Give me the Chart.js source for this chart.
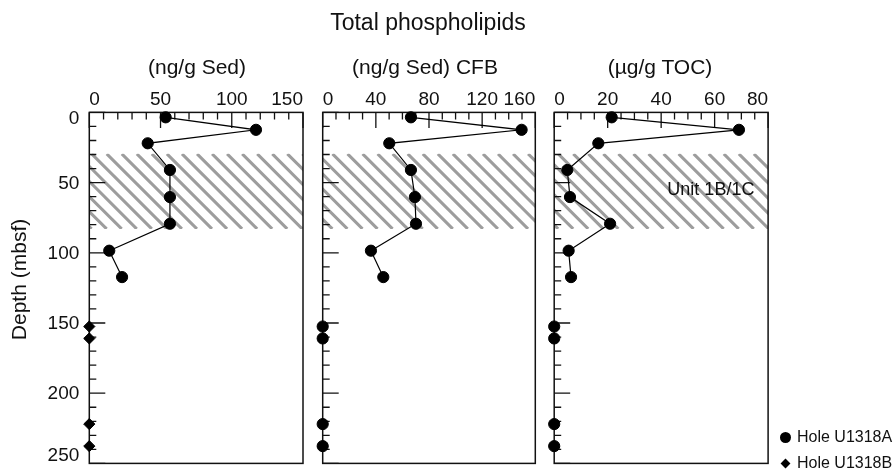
<!DOCTYPE html>
<html>
<head>
<meta charset="utf-8">
<script src="https://cdn.jsdelivr.net/npm/chart.js@4.4.1/dist/chart.umd.min.js"></script>
<style>
  body { margin: 0; background: #fff; }
  #wrap { position: relative; width: 895px; height: 470px; font-family: 'Liberation Sans', Arial, sans-serif; color: #111; }
  #wrap canvas { position: absolute; left: 0; top: 0; }
  .lbl { position: absolute; white-space: nowrap; transform: translate(-50%, -50%); line-height: 1; }
  .key { position: absolute; left: 779px; font-size: 16px; line-height: 1; white-space: nowrap; transform: translateY(-50%); display: flex; align-items: center; }
  .key i { display: inline-block; width: 12px; height: 12px; margin-right: 6px; position: relative; }
  .key i.dot::after { content: ''; position: absolute; left: 0.5px; top: 0.5px; width: 11px; height: 11px; border-radius: 50%; background: #000; }
  .key i.dia::after { content: ''; position: absolute; left: 2.5px; top: 2.5px; width: 7px; height: 7px; background: #000; transform: rotate(45deg); }
</style>
</head>
<body>
<div id="wrap">
  <canvas id="sed" width="895" height="470"></canvas>
  <canvas id="cfb" width="895" height="470"></canvas>
  <canvas id="toc" width="895" height="470"></canvas>

  <div class="lbl" style="left:428px; top:22px; font-size:23px;">Total phospholipids</div>
  <div class="lbl" style="left:197px; top:66px; font-size:21px;">(ng/g Sed)</div>
  <div class="lbl" style="left:425px; top:66px; font-size:21px;">(ng/g Sed) CFB</div>
  <div class="lbl" style="left:660px; top:66px; font-size:21px;">(µg/g TOC)</div>

  <div class="key" style="top:437px;"><i class="dot"></i>Hole U1318A</div>
  <div class="key" style="top:463px;"><i class="dia"></i>Hole U1318B</div>
</div>

<script>
// depth of each sample (mbsf)
const depthA = [3.5, 12.4, 22, 41, 60.3, 79.3, 98.5, 117.3];
const depthB = [152.5, 161, 222, 237.7];

// total phospholipids, Hole U1318A
const sedA = [53.6, 117, 41, 56.6, 56.6, 56.6, 14, 23];
const cfbA = [66.4, 149.7, 50.1, 66.4, 69.4, 70.2, 36.3, 45.6];
const tocA = [21.5, 69.1, 16.5, 4.9, 5.9, 20.9, 5.4, 6.3];

// Hole U1318B, all at zero
const sedB = [0, 0, 0, 0];
const cfbB = [0, 0, 0, 0];
const tocB = [0, 0, 0, 0];

// depth axis
const depthMax = 250;
const depthStep = 10;
const depthMajor = 50;
const depthTitle = 'Depth (mbsf)';

// Unit 1B/1C interval
const unitTop = 29.5;
const unitBottom = 83;
const unitLabel = 'Unit 1B/1C';

const FONT = "'Liberation Sans', Arial, sans-serif";
Chart.defaults.font.family = FONT;
Chart.defaults.color = '#111';

const pairs = (xs, ys) => xs.map((v, i) => ({ x: v, y: ys[i] }));

// hatch, frame and inward tick marks
const panelFrame = {
  id: 'panelFrame',
  beforeDatasetsDraw(chart, args, opts) {
    const { ctx, chartArea: a, scales: { x, y } } = chart;

    // hatched band
    const y0 = y.getPixelForValue(unitTop);
    const y1 = y.getPixelForValue(unitBottom);
    const h = y1 - y0;
    const gap = 15.05;
    ctx.save();
    ctx.beginPath();
    ctx.rect(a.left, y0, a.right - a.left, h);
    ctx.clip();
    ctx.strokeStyle = '#9d9d9d';
    ctx.lineWidth = 3;
    let sx = 91.7 + gap * Math.floor((a.left - h - 91.7) / gap);
    for (; sx < a.right; sx += gap) {
      ctx.beginPath();
      ctx.moveTo(sx, y0);
      ctx.lineTo(sx + h, y1);
      ctx.stroke();
    }
    ctx.restore();

    ctx.save();
    ctx.strokeStyle = '#111';
    ctx.lineWidth = 1.5;
    ctx.strokeRect(a.left, a.top, a.right - a.left, a.bottom - a.top);

    ctx.lineWidth = 1.3;
    ctx.beginPath();
    x.ticks.forEach(t => {
      const px = x.getPixelForValue(t.value);
      const len = t.value % opts.xMajor === 0 ? 15.5 : 7;
      ctx.moveTo(px, a.top);
      ctx.lineTo(px, a.top + len);
    });
    y.ticks.forEach(t => {
      const py = y.getPixelForValue(t.value);
      const len = t.value % depthMajor === 0 ? 16 : 7;
      ctx.moveTo(a.left, py);
      ctx.lineTo(a.left + len, py);
    });
    ctx.stroke();

    // depth labels, kept inside the frame height, plus the axis title
    if (opts.depthLabels) {
      ctx.fillStyle = '#111';
      ctx.font = '19px ' + FONT;
      ctx.textAlign = 'right';
      ctx.textBaseline = 'middle';
      y.ticks.forEach(t => {
        if (t.value % depthMajor !== 0) return;
        let py = y.getPixelForValue(t.value);
        py = Math.min(Math.max(py, a.top + 5), a.bottom - 9);
        ctx.fillText(String(t.value), a.left - 10, py + 1);
      });

      ctx.save();
      ctx.translate(20, y.getPixelForValue(119));
      ctx.rotate(-Math.PI / 2);
      ctx.font = '21px ' + FONT;
      ctx.textAlign = 'center';
      ctx.fillText(depthTitle, 0, 0);
      ctx.restore();
    }

    if (opts.note) {
      ctx.fillStyle = '#111';
      ctx.font = '18px ' + FONT;
      ctx.textAlign = 'center';
      ctx.textBaseline = 'middle';
      ctx.fillText(unitLabel, x.getPixelForValue(opts.note.x), y.getPixelForValue(opts.note.y));
    }
    ctx.restore();
  }
};

function makePanel(id, p) {
  return new Chart(document.getElementById(id), {
    type: 'scatter',
    data: {
      datasets: [
        {
          label: 'Hole U1318A',
          data: pairs(p.a, depthA),
          showLine: true,
          borderColor: '#000',
          borderWidth: 1.2,
          pointStyle: 'circle',
          pointRadius: 5.6,
          pointBackgroundColor: '#000',
          pointBorderColor: '#000',
          pointBorderWidth: 1,
          clip: false
        },
        {
          label: 'Hole U1318B',
          data: pairs(p.b, depthB),
          showLine: false,
          pointStyle: p.bStyle,
          pointRadius: 5.6,
          pointBackgroundColor: '#000',
          pointBorderColor: '#000',
          pointBorderWidth: 1,
          clip: false
        }
      ]
    },
    options: {
      responsive: false,
      animation: false,
      events: [],
      layout: { padding: { top: 0, left: 0, bottom: 2.5, right: 895 - p.right } },
      plugins: {
        legend: { display: false },
        tooltip: { enabled: false },
        panelFrame: { xMajor: p.major, depthLabels: p.depthLabels, note: p.note }
      },
      scales: {
        x: {
          type: 'linear',
          position: 'top',
          min: 0,
          max: p.max,
          grid: { display: false, drawTicks: false },
          border: { display: false },
          ticks: {
            stepSize: p.step,
            autoSkip: false,
            maxRotation: 0,
            align: 'inner',
            padding: 1,
            color: '#111',
            font: { size: 19 },
            callback: v => (v % p.major === 0 ? String(v) : '')
          },
          afterFit: s => { s.height = 112.4; }
        },
        y: {
          type: 'linear',
          reverse: true,
          min: 0,
          max: depthMax,
          grid: { display: false, drawTicks: false },
          border: { display: false },
          ticks: { stepSize: depthStep, display: false },
          afterFit: s => { s.width = p.left; }
        }
      }
    },
    plugins: [panelFrame]
  });
}

makePanel('sed', { left: 89.3, right: 303, max: 150, step: 10, major: 50, a: sedA, b: sedB, bStyle: 'rectRot', depthLabels: true });
makePanel('cfb', { left: 322.7, right: 535.3, max: 160, step: 10, major: 40, a: cfbA, b: cfbB, bStyle: 'circle' });
makePanel('toc', { left: 554.2, right: 768.1, max: 80, step: 5, major: 20, a: tocA, b: tocB, bStyle: 'circle', note: { x: 58.6, y: 55.1 } });
</script>
</body>
</html>
